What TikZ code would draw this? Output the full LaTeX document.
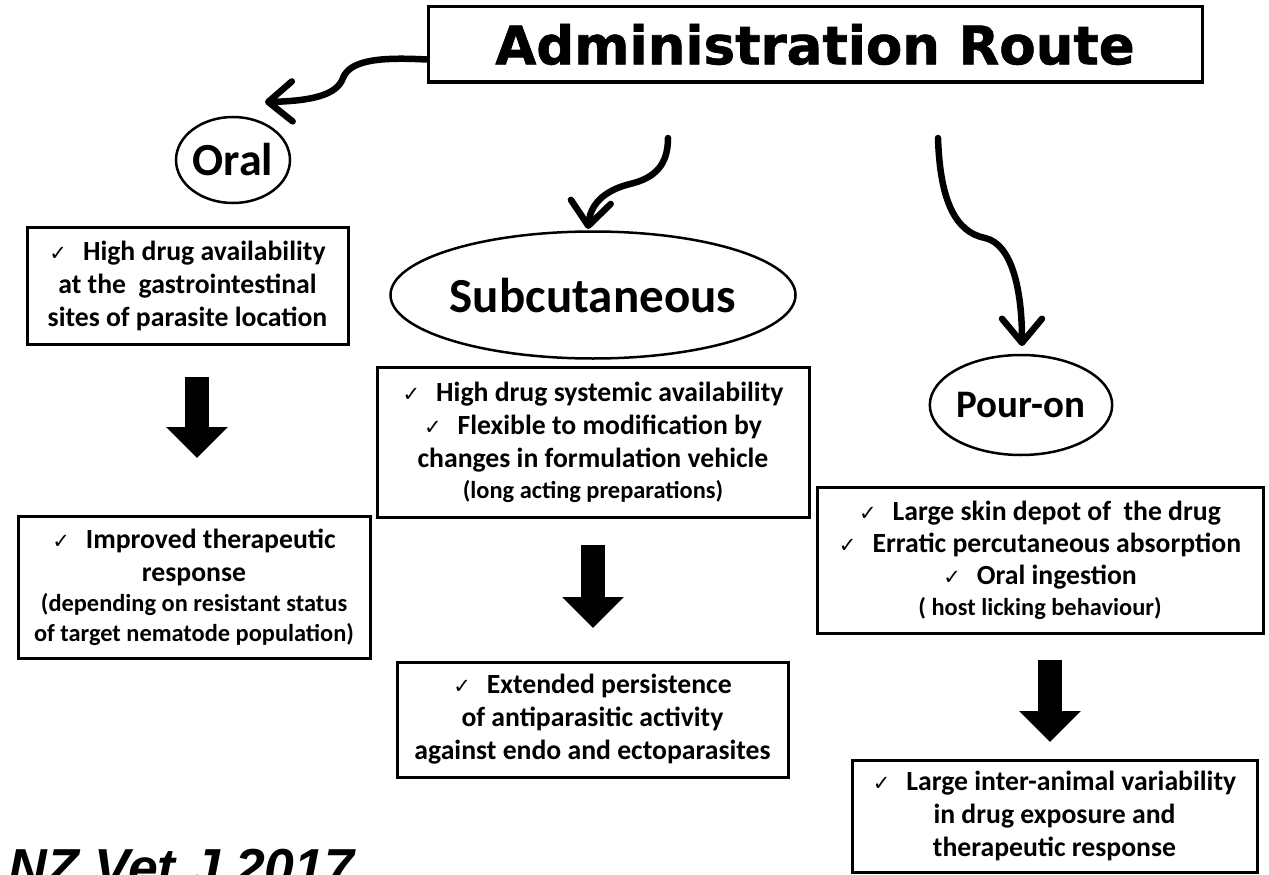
\documentclass[tikz,border=0pt]{standalone}
\usepackage{fontspec}
\setmainfont{Carlito}
\newfontfamily\titlefont{DejaVu Sans}[BoldFeatures={FakeBold=1.2}]
\newfontfamily\chkfont{DejaVu Sans}
\newfontfamily\citefont{Liberation Sans}
\usetikzlibrary{shapes.geometric,arrows.meta,calc}
\newcommand{\ck}{{\chkfont\mdseries\fontsize{21}{21}\selectfont ✓}\hspace{16pt}}
\newcommand{\sm}{\fontsize{24.4}{30}\selectfont}
\tikzset{
  txtbox/.style={draw, line width=3pt, inner sep=0pt, align=center,
    font=\bfseries\fontsize{27.7}{33}\selectfont},
  oval/.style={draw, ellipse, line width=2.5pt, inner sep=0pt, font=\bfseries},
  curvy/.style={line width=6.5pt, line cap=round,
    -{Straight Barb[length=24pt,width=40pt,round]}},
  blk/.style={line width=24pt, -{Triangle[length=31pt,width=60pt]}},
}
\begin{document}
\begin{tikzpicture}[x=1pt,y=-1pt]
\path[use as bounding box, clip] (0,0) rectangle (1269,875);
\fill[white] (0,0) rectangle (1269,875);

% title
\node[draw, line width=3pt, minimum width=774pt, minimum height=75pt, inner sep=0pt,
  font=\titlefont\bfseries\fontsize{53}{56}\selectfont] (title) at (815,44.5) {Administration Route};

% ellipses
\node[oval, minimum width=114pt, minimum height=86pt, font=\bfseries\fontsize{46}{50}\selectfont] (oral) at (233,160) {Oral};
\node[oval, minimum width=350pt, minimum height=127pt, font=\bfseries\fontsize{49}{52}\selectfont] (sub) at (593,295) {Subcutaneous};
\node[oval, minimum width=156pt, minimum height=100pt, font=\bfseries\fontsize{39}{44}\selectfont] (pour) at (1021,405) {Pour-on};

% boxes
\node[txtbox, minimum width=321pt, minimum height=117pt] (ob1) at (187.5,285.5)
  {\ck High drug availability\\ at the\ \ gastrointestinal\\ sites of parasite location};
\node[txtbox, minimum width=352pt, minimum height=142pt] (ob2) at (194,587)
  {\ck Improved therapeutic\\ response\\[-3pt] {\sm (depending on resistant status}\\[-3pt] {\sm of target nematode population)}};
\node[txtbox, minimum width=432pt, minimum height=150pt] (sb1) at (593,442)
  {\ck High drug systemic availability\\ \ck Flexible to modification by\\ changes in formulation vehicle\\[-2pt] {\sm (long acting preparations)}};
\node[txtbox, minimum width=391pt, minimum height=115pt] (sb2) at (592.5,719.5)
  {\ck Extended persistence\\ of antiparasitic activity\\ against endo and ectoparasites};
\node[txtbox, minimum width=446pt, minimum height=146pt] (pb1) at (1040,560)
  {\ck Large skin depot of\ \ the drug\\[-1pt] \ck Erratic percutaneous absorption\\[-1pt] \ck Oral ingestion\\[-2pt] {\sm ( host licking behaviour)}};
\node[txtbox, minimum width=405pt, minimum height=112pt] (pb2) at (1054.5,816)
  {\ck Large inter-animal variability\\ in drug exposure and\\ therapeutic response};

% curved connectors
\coordinate (s1) at ($(title.south west)+(0,-24)$);
\coordinate (t1) at (265,102);
\draw[curvy] (s1) .. controls (380,57) and (350,60) .. (343,78)
  .. controls (337,95) and (312,101) .. (t1);
\coordinate (s2) at (668,138);
\coordinate (t2) at (588,229);
\draw[curvy] (s2) .. controls (668,165) and (655,178) .. (630,184)
  .. controls (610,189) and (591,200) .. (t2);
\coordinate (s3) at (938,138);
\coordinate (t3) at (1022,346);
\draw[curvy] (s3) .. controls (940,200) and (955,232) .. (985,238)
  .. controls (1012,244) and (1022,290) .. (t3);

% block arrows
\coordinate (a1s) at (197,377); \coordinate (a1e) at (197,458);
\coordinate (a2s) at (593,545); \coordinate (a2e) at (593,628);
\coordinate (a3s) at (1050,660); \coordinate (a3e) at (1050,742);
\draw[blk] (a1s) -- (a1e);
\draw[blk] (a2s) -- (a2e);
\draw[blk] (a3s) -- (a3e);

% citation (cut off at the lower edge)
\node[anchor=base west, inner sep=0pt, font=\citefont\bfseries\itshape\fontsize{53.5}{55}\selectfont] (cite) at (8,886) {NZ Vet J 2017};
\end{tikzpicture}
\end{document}
